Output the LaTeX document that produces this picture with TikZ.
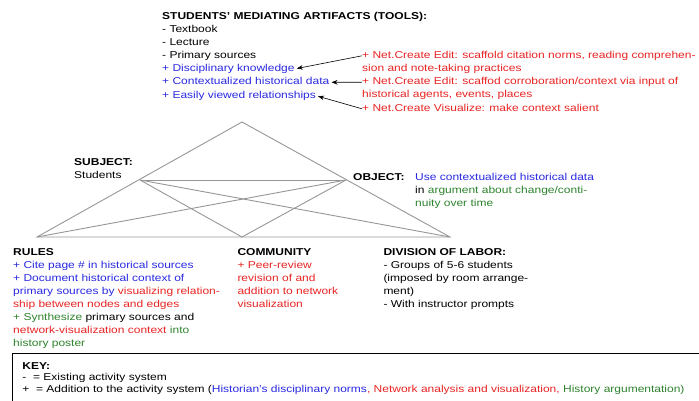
\documentclass[tikz,border=0pt]{standalone}
\usepackage{fontspec}
\setmainfont{Liberation Sans}[FakeStretch=1.2]
\usepackage{xcolor}
\definecolor{artblue}{RGB}{40,40,225}
\definecolor{netred}{RGB}{232,35,35}
\definecolor{argreen}{RGB}{45,130,45}
\definecolor{trigray}{RGB}{150,150,150}
\usetikzlibrary{positioning,arrows.meta}

\newcommand{\bodyfont}{\fontsize{10}{13}\selectfont}
\newcommand{\keyfont}{\fontsize{10}{11.5}\selectfont}

\begin{document}
\begin{tikzpicture}[x=1pt, y=-1pt,
      txt/.style={inner sep=0pt, anchor=north west, align=left, font=\bodyfont},
      line/.style={txt, text height=9.1pt, text depth=3.9pt},
      arr/.style={-{Stealth[length=6pt,width=4.5pt]}, semithick, black, shorten >=2pt},
      tri/.style={draw=trigray, line width=0.9pt}
  ]
  \useasboundingbox (0,0) rectangle (699,401);

  %% ---- Tools (top): existing list, then the three additions
  \node[txt] (tools) at (162,9.8) {\strut\textbf{STUDENTS' MEDIATING ARTIFACTS (TOOLS):}\\- Textbook\\- Lecture\\- Primary sources\strut};
  \node[line, text=artblue, below=0pt of tools.south west, anchor=north west] (know) {+ Disciplinary knowledge};
  \node[line, text=artblue, below=0pt of know.south west, anchor=north west]  (ctx)  {+ Contextualized historical data};
  \node[line, text=artblue, below=0pt of ctx.south west, anchor=north west]   (rel)  {+ Easily viewed relationships};

  %% ---- Net.Create notes (right of tools)
  \node[txt, text=netred] (net1) at (362,49.3) {\strut+ Net.Create Edit: scaffold citation norms, reading comprehen-\\sion and note-taking practices\strut};
  \node[txt, text=netred, below=0pt of net1.south west, anchor=north west] (net2) {\strut+ Net.Create Edit: scaffod corroboration/context via input of\\historical agents, events, places\strut};
  \node[line, text=netred, below=0pt of net2.south west, anchor=north west] (net3) {+ Net.Create Visualize: make context salient};

  \draw[arr] ([yshift=-6.5pt]net1.north west) -- (know.east);
  \draw[arr] ([yshift=-6.5pt]net2.north west) -- (ctx.east);
  \draw[arr] (net3.west) -- (rel.east);

  %% ---- Activity triangle
  \coordinate (apex) at (242,122);
  \coordinate (subj) at (140,180);
  \coordinate (obj)  at (346,180);
  \coordinate (rul)  at (37,237);
  \coordinate (com)  at (242,237);
  \coordinate (div)  at (450,237);
  \draw[tri] (rul) -- (apex) -- (div) -- cycle;
  \draw[tri] (subj) -- (obj);
  \draw[tri] (subj) -- (com) -- (obj);
  \draw[tri] (subj) -- (div);
  \draw[tri] (obj) -- (rul);

  %% ---- Subject and object
  \node[txt] (subject) at (74,156.6) {\strut\textbf{SUBJECT:}\\Students};
  \node[txt] (object)  at (353,171)  {\strut\textbf{OBJECT:}};
  \node[txt] (goal)    at (415,171)  {\strut\textcolor{artblue}{Use contextualized historical data}\\in \textcolor{argreen}{argument about change/conti-}\\\textcolor{argreen}{nuity over time}};

  %% ---- Bottom row: rules, community, division of labor
  \node[txt] (rules) at (13,246) {\strut\textbf{RULES}\\
    \textcolor{artblue}{+ Cite page \# in historical sources}\\
    \textcolor{artblue}{+ Document historical context of}\\
    \textcolor{artblue}{primary sources by} \textcolor{netred}{visualizing relation-}\\
    \textcolor{netred}{ship between nodes and edges}\\
    \textcolor{argreen}{+ Synthesize} primary sources and\\
    \textcolor{netred}{network-visualization context} \textcolor{argreen}{into}\\
    \textcolor{argreen}{history poster}};
  \node[txt] (community) at (237.3,246) {\strut\textbf{COMMUNITY}\\
    \textcolor{netred}{+ Peer-review}\\
    \textcolor{netred}{revision of and}\\
    \textcolor{netred}{addition to network}\\
    \textcolor{netred}{visualization}};
  \node[txt] (labor) at (383.3,246) {\strut\textbf{DIVISION OF LABOR:}\\
    - Groups of 5-6 students\\
    (imposed by room arrange-\\
    ment)\\
    - With instructor prompts};

  %% ---- Key (runs off the right and bottom edges)
  \node[draw, line width=0.9pt, anchor=north west, align=left, font=\keyfont,
        inner xsep=10pt, inner ysep=7.5pt, text width=760pt] (key) at (12,353)
    {\strut\textbf{KEY:}\\
     -~~= Existing activity system\\
     +~~= Addition to the activity system (\textcolor{artblue}{Historian's disciplinary norms}\textcolor{netred}{, Network analysis and visualization,} \textcolor{argreen}{History argumentation)}};
\end{tikzpicture}
\end{document}
